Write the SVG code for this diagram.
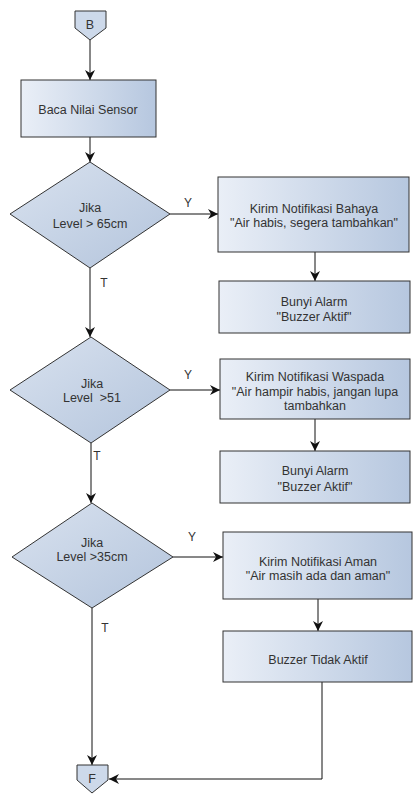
<svg xmlns="http://www.w3.org/2000/svg" width="413" height="794" viewBox="0 0 413 794">
<defs>
<linearGradient id="gBox" x1="0" y1="0" x2="1" y2="0">
<stop offset="0" stop-color="#eaeff7"/>
<stop offset="1" stop-color="#b6c7df"/>
</linearGradient>
<linearGradient id="gDia" x1="0" y1="0" x2="1" y2="1">
<stop offset="0" stop-color="#d9e2ef"/>
<stop offset="1" stop-color="#b3c4dc"/>
</linearGradient>
<marker id="arr" viewBox="0 0 10 10" refX="10" refY="5" markerWidth="10" markerHeight="10" markerUnits="userSpaceOnUse" orient="auto">
<path d="M0,0 L10,5 L0,10 L3,5 Z" fill="#111"/>
</marker>
<style>
.box{fill:url(#gBox);stroke:#333;stroke-width:1}
.dia{fill:url(#gDia);stroke:#333;stroke-width:1}
.con{fill:#cdd9ea;stroke:#333;stroke-width:1}
.t{font-family:"Liberation Sans",Arial,sans-serif;font-size:12.5px;fill:#333;text-anchor:middle;dominant-baseline:central;white-space:pre}
.lbl{font-family:"Liberation Sans",Arial,sans-serif;font-size:12px;fill:#333;text-anchor:middle;dominant-baseline:central}
.ln{fill:none;stroke:#111;stroke-width:1}
</style>
</defs>
<g id="connectors">
<line class="ln" x1="90" y1="40" x2="90" y2="80" marker-end="url(#arr)"/>
<line class="ln" x1="90" y1="137" x2="90" y2="162" marker-end="url(#arr)"/>
<line class="ln" x1="170" y1="214" x2="218" y2="214" marker-end="url(#arr)"/>
<line class="ln" x1="315" y1="252" x2="315" y2="281" marker-end="url(#arr)"/>
<line class="ln" x1="90" y1="268" x2="90" y2="337" marker-end="url(#arr)"/>
<line class="ln" x1="170" y1="390" x2="220" y2="390" marker-end="url(#arr)"/>
<line class="ln" x1="315" y1="419" x2="315" y2="451" marker-end="url(#arr)"/>
<line class="ln" x1="91" y1="443" x2="91" y2="503" marker-end="url(#arr)"/>
<line class="ln" x1="173" y1="557" x2="223" y2="557" marker-end="url(#arr)"/>
<line class="ln" x1="318" y1="599" x2="318" y2="631" marker-end="url(#arr)"/>
<line class="ln" x1="92" y1="608" x2="92" y2="765" marker-end="url(#arr)"/>
<polyline class="ln" points="322,682 322,779 109,779" marker-end="url(#arr)"/>
<text class="lbl" x="188" y="203">Y</text>
<text class="lbl" x="104" y="283">T</text>
<text class="lbl" x="188" y="375">Y</text>
<text class="lbl" x="97" y="456">T</text>
<text class="lbl" x="192" y="537">Y</text>
<text class="lbl" x="105" y="628">T</text>
</g>
<g id="start">
<path class="con" d="M75,11 H106 V28 L90,40 L75,28 Z"/>
<text class="t" x="90" y="25">B</text>
</g>
<g id="baca">
<rect class="box" x="21" y="80" width="135" height="57"/>
<text class="t" x="88" y="110">Baca Nilai Sensor</text>
</g>
<g id="dec1">
<path class="dia" d="M90,162 L170,214 L90,268 L10,214 Z"/>
<text class="t" x="90" y="208">Jika</text>
<text class="t" x="90" y="224">Level &gt; 65cm</text>
</g>
<g id="notif1">
<rect class="box" x="218" y="177" width="191" height="75"/>
<text class="t" x="314" y="209">Kirim Notifikasi Bahaya</text>
<text class="t" x="314" y="223">"Air habis, segera tambahkan"</text>
</g>
<g id="alarm1">
<rect class="box" x="219" y="281" width="191" height="52"/>
<text class="t" x="314" y="302">Bunyi Alarm</text>
<text class="t" x="314" y="317">"Buzzer Aktif"</text>
</g>
<g id="dec2">
<path class="dia" d="M91,337 L170,390 L91,443 L10,390 Z"/>
<text class="t" x="92" y="384">Jika</text>
<text class="t" x="92" y="398">Level  &gt;51</text>
</g>
<g id="notif2">
<rect class="box" x="220" y="359" width="190" height="60"/>
<text class="t" x="315" y="377">Kirim Notifikasi Waspada</text>
<text class="t" x="315" y="392">"Air hampir habis, jangan lupa</text>
<text class="t" x="315" y="406">tambahkan</text>
</g>
<g id="alarm2">
<rect class="box" x="220" y="451" width="190" height="52"/>
<text class="t" x="315" y="471">Bunyi Alarm</text>
<text class="t" x="315" y="487">"Buzzer Aktif"</text>
</g>
<g id="dec3">
<path class="dia" d="M92,503 L173,557 L92,608 L12,557 Z"/>
<text class="t" x="92" y="543">Jika</text>
<text class="t" x="92" y="557">Level &gt;35cm</text>
</g>
<g id="notif3">
<rect class="box" x="223" y="532" width="189" height="67"/>
<text class="t" x="318" y="562">Kirim Notifikasi Aman</text>
<text class="t" x="318" y="576">"Air masih ada dan aman"</text>
</g>
<g id="buzzeroff">
<rect class="box" x="223" y="631" width="189" height="51"/>
<text class="t" x="318" y="660">Buzzer Tidak Aktif</text>
</g>
<g id="end">
<path class="con" d="M77,765 H108 V780 L92,793 L77,780 Z"/>
<text class="t" x="92" y="779">F</text>
</g>
</svg>
